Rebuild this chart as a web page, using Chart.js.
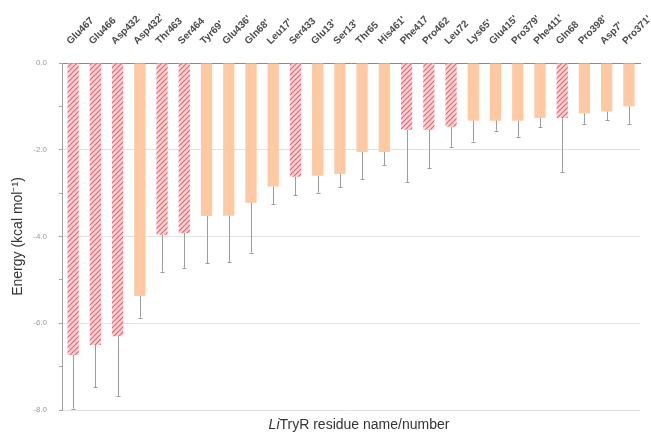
<!DOCTYPE html>
<html>
<head>
<meta charset="utf-8">
<script src="https://cdn.jsdelivr.net/npm/chart.js@4.4.1/dist/chart.umd.min.js"></script>
<style>
  html, body { margin: 0; padding: 0; background: #ffffff; }
  #wrap { width: 651px; height: 435px; }
</style>
</head>
<body>
<div id="wrap"><canvas id="c" width="651" height="435"></canvas></div>
<script>
// Per-residue binding free energy contributions (kcal/mol)
const residues = [
  "Glu467", "Glu466", "Asp432", "Asp432'", "Thr463", "Ser464", "Tyr69'", "Glu436'",
  "Gln68'", "Leu17'", "Ser433", "Glu13'", "Ser13'", "Thr65", "His461'", "Phe417",
  "Pro462", "Leu72", "Lys65'", "Glu415'", "Pro379'", "Phe411'", "Gln68", "Pro398'",
  "Asp7'", "Pro371'"
];
const energies = [
  -6.73, -6.50, -6.30, -5.37, -3.96, -3.92, -3.53, -3.52,
  -3.22, -2.85, -2.62, -2.60, -2.56, -2.05, -2.05, -1.54,
  -1.54, -1.47, -1.33, -1.33, -1.33, -1.27, -1.27, -1.16,
  -1.12, -1.00
];
const errors = [
  1.24, 0.97, 1.38, 0.50, 0.85, 0.80, 1.09, 1.07,
  1.15, 0.40, 0.43, 0.39, 0.30, 0.63, 0.30, 1.20,
  0.88, 0.46, 0.48, 0.23, 0.37, 0.20, 1.24, 0.24,
  0.20, 0.40
];
// Residues drawn with the hatched fill (hot spots)
const hotSpots = [
  true, true, true, false, true, true, false, false,
  false, false, true, false, false, false, false, true,
  true, true, false, false, false, false, true, false,
  false, false
];
const yTicks = [0, -2, -4, -6, -8];

const SOLID = '#ffc9a3';

function hatchPattern() {
  const c = document.createElement('canvas');
  c.width = 5; c.height = 5;
  const g = c.getContext('2d');
  g.fillStyle = '#ffd6d6';
  g.fillRect(0, 0, 5, 5);
  g.strokeStyle = '#ef6070';
  g.lineWidth = 1.2;
  g.beginPath();
  g.moveTo(-1, 6); g.lineTo(6, -1);
  g.moveTo(-1, 1); g.lineTo(1, -1);
  g.moveTo(4, 6); g.lineTo(6, 4);
  g.stroke();
  return g.createPattern(c, 'repeat');
}
const hatch = hatchPattern();

// One-sided error bars hanging below each bar
const errorBars = {
  id: 'errorBars',
  afterDatasetsDraw(chart) {
    const ctx = chart.ctx;
    const meta = chart.getDatasetMeta(0);
    const ys = chart.scales.y;
    ctx.save();
    ctx.strokeStyle = '#9c9c9c';
    ctx.lineWidth = 1;
    meta.data.forEach((bar, i) => {
      const x = Math.round(bar.x) + 0.5;
      const y0 = ys.getPixelForValue(energies[i]);
      const y1 = ys.getPixelForValue(energies[i] - errors[i]);
      ctx.beginPath();
      ctx.moveTo(x, y0);
      ctx.lineTo(x, y1);
      ctx.moveTo(x - 2, Math.round(y1) + 0.5);
      ctx.lineTo(x + 2, Math.round(y1) + 0.5);
      ctx.stroke();
    });
    ctx.restore();
  }
};

// Axis title under the plot, with the species prefix in italics
const bottomTitle = {
  id: 'bottomTitle',
  afterDraw(chart) {
    const ctx = chart.ctx;
    const a = chart.chartArea;
    const italic = 'italic 14px "Liberation Sans", Arial, sans-serif';
    const normal = '14px "Liberation Sans", Arial, sans-serif';
    ctx.save();
    ctx.fillStyle = '#333';
    ctx.textBaseline = 'middle';
    ctx.font = italic;
    const w1 = ctx.measureText('Li').width;
    ctx.font = normal;
    const rest = 'TryR residue name/number';
    const w2 = ctx.measureText(rest).width;
    const x0 = (a.left + a.right) / 2 + 8 - (w1 + w2) / 2;
    const y = 425;
    ctx.font = italic;
    ctx.fillText('Li', x0, y);
    ctx.font = normal;
    ctx.fillText(rest, x0 + w1, y);
    ctx.restore();
  }
};

new Chart(document.getElementById('c'), {
  type: 'bar',
  data: {
    labels: residues,
    datasets: [{
      data: energies,
      backgroundColor: hotSpots.map(h => h ? hatch : SOLID),
      borderWidth: 0,
      barPercentage: 0.55,
      categoryPercentage: 0.92
    }]
  },
  options: {
    responsive: false,
    animation: false,
    devicePixelRatio: 1,
    layout: { padding: { top: 0, left: 10, right: 11, bottom: 25 } },
    plugins: {
      legend: { display: false },
      tooltip: { enabled: false }
    },
    scales: {
      x: {
        position: 'top',
        grid: { display: false },
        border: { display: true, color: '#8a8a8a', width: 1 },
        ticks: {
          autoSkip: false,
          minRotation: 45,
          maxRotation: 45,
          padding: 8,
          labelOffset: 4,
          color: '#4a4a4a',
          font: { family: '"Liberation Sans", Arial, sans-serif', size: 10, weight: 'bold' }
        },
        afterFit(scale) {
          scale.height = 63;
          scale.paddingLeft = 0;
          scale.paddingRight = 0;
        }
      },
      y: {
        min: -8,
        max: 0,
        border: { display: true, color: '#a0a0a0', width: 1 },
        grid: {
          drawOnChartArea: true,
          color: ctx => (ctx.tick && ctx.tick.value !== 0 && ctx.tick.value % 2 === 0) ? '#e2e2e2' : 'rgba(0,0,0,0)',
          tickColor: '#a8a8a8',
          tickLength: 3,
          lineWidth: 1
        },
        ticks: {
          stepSize: 1,
          padding: 12,
          color: '#9a9a9a',
          font: { family: '"Liberation Sans", Arial, sans-serif', size: 8 },
          callback: v => yTicks.includes(v) ? v.toFixed(1) : ''
        },
        title: {
          display: true,
          text: 'Energy (kcal mol\u207B\u00B9)',
          color: '#333',
          padding: { top: 0, bottom: 2 },
          font: { family: '"Liberation Sans", Arial, sans-serif', size: 14 }
        },
        afterFit(scale) { scale.width = 52; }
      }
    }
  },
  plugins: [errorBars, bottomTitle]
});
</script>
</body>
</html>
